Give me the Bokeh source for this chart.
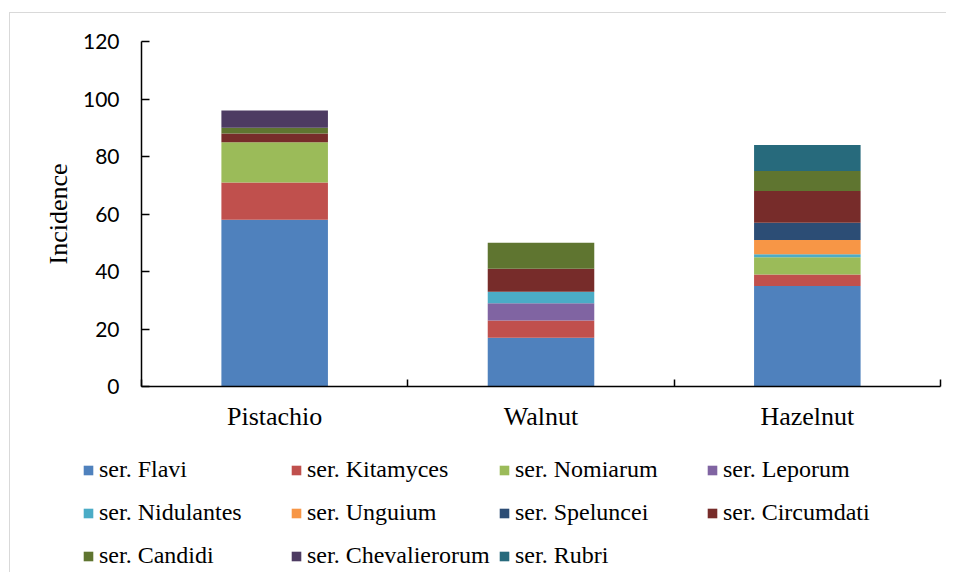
from bokeh.plotting import figure
from bokeh.models import Range1d, FixedTicker, ColumnDataSource, Legend, LegendItem
from bokeh.embed import file_html
from bokeh.resources import INLINE

# ---- data ----
categories = ["Pistachio", "Walnut", "Hazelnut"]
series_names = ["ser. Flavi", "ser. Kitamyces", "ser. Nomiarum", "ser. Leporum",
                "ser. Nidulantes", "ser. Unguium", "ser. Speluncei", "ser. Circumdati",
                "ser. Candidi", "ser. Chevalierorum", "ser. Rubri"]
flavi = [58, 17, 35]
kitamyces = [13, 6, 4]
nomiarum = [14, 0, 6]
leporum = [0, 6, 0]
nidulantes = [0, 4, 1]
unguium = [0, 0, 5]
speluncei = [0, 0, 6]
circumdati = [3, 8, 11]
candidi = [2, 9, 7]
chevalierorum = [6, 0, 0]
rubri = [0, 0, 9]
y_ticks = [0, 20, 40, 60, 80, 100, 120]

colors = ["#4F81BD", "#C0504D", "#9BBB59", "#8064A2", "#4BACC6", "#F79646",
          "#2C4D75", "#772C2A", "#5F7530", "#4D3B62", "#276A7C"]

series_values = [flavi, kitamyces, nomiarum, leporum, nidulantes, unguium,
                 speluncei, circumdati, candidi, chevalierorum, rubri]
keys = ["s%d" % i for i in range(len(series_names))]

data = {"x": [i + 0.5 for i in range(len(categories))]}
for k, v in zip(keys, series_values):
    data[k] = v
src = ColumnDataSource(data)

W = 937
H_MAIN = 435
H_LEG = 125

p = figure(width=W, height=H_MAIN, output_backend="svg", toolbar_location=None,
           x_range=Range1d(0, len(categories)), y_range=Range1d(0, 120),
           min_border_left=131, min_border_right=7, min_border_top=28,
           min_border_bottom=62, margin=(12, 0, 0, 9),
           styles={"border-left": "1px solid #d9d9d9",
                   "border-top": "1px solid #d9d9d9"})
p.outline_line_color = None
p.xgrid.visible = False
p.ygrid.visible = False
p.background_fill_color = "white"
p.border_fill_color = "white"

p.vbar_stack(keys, x="x", width=0.4, source=src, color=colors, line_width=0)

# y axis
ya = p.yaxis[0]
ya.ticker = FixedTicker(ticks=y_ticks)
ya.major_tick_in = 8
ya.major_tick_out = 0
ya.minor_tick_line_color = None
ya.axis_line_color = "black"
ya.axis_line_width = 1.5
ya.major_tick_line_width = 1.5
ya.major_tick_line_color = "black"
ya.major_label_text_font = "Lato"
ya.major_label_text_font_size = "21px"
ya.major_label_text_color = "black"
ya.major_label_standoff = 22
ya.axis_label = "Incidence"
ya.axis_label_text_font = "serif"
ya.axis_label_text_font_style = "normal"
ya.axis_label_text_font_size = "26px"
ya.axis_label_text_color = "black"
ya.axis_label_standoff = 7

# x axis
xa = p.xaxis[0]
centers = [i + 0.5 for i in range(len(categories))]
bounds = [float(i) for i in range(len(categories) + 1)]
xa.ticker = FixedTicker(ticks=centers, minor_ticks=bounds)
xa.major_label_overrides = {c: name for c, name in zip(centers, categories)}
xa.major_tick_line_color = None
xa.minor_tick_in = 7
xa.minor_tick_out = 0
xa.minor_tick_line_color = "black"
xa.minor_tick_line_width = 1.5
xa.axis_line_color = "black"
xa.axis_line_width = 1.5
xa.major_label_text_font = "serif"
xa.major_label_text_font_size = "26px"
xa.major_label_text_color = "black"
xa.major_label_standoff = 9

# ---- legend panel: a separate figure whose frame fills it ----
leg = figure(width=W, height=H_LEG, output_backend="svg", toolbar_location=None,
             x_range=Range1d(0, 1), y_range=Range1d(0, 1),
             min_border_left=0, min_border_right=0, min_border_top=0,
             min_border_bottom=0, margin=(0, 0, 0, 9),
             styles={"border-left": "1px solid #d9d9d9"})
leg.axis.visible = False
leg.xgrid.visible = False
leg.ygrid.visible = False
leg.outline_line_color = None
leg.background_fill_color = "white"
leg.border_fill_color = "white"

# hidden proxies of the same series, used only for the legend swatches
proxies = leg.vbar_stack(keys, x="x", width=0.4, source=src, color=colors,
                         line_width=0)
for r in proxies:
    r.visible = False
items = [LegendItem(label=n, renderers=[r]) for n, r in zip(series_names, proxies)]
legend = Legend(items=items, ncols=4, location=(72, -5),
                orientation="horizontal",
                glyph_width=12, glyph_height=12, label_standoff=5,
                label_width=191, label_height=43, spacing=0, padding=0,
                margin=0, border_line_color=None, background_fill_alpha=0,
                label_text_font="serif", label_text_font_size="24px",
                label_text_color="black", label_text_baseline="middle")
leg.add_layout(legend, "center")

open("out.html", "w").write(file_html([p, leg], INLINE))
